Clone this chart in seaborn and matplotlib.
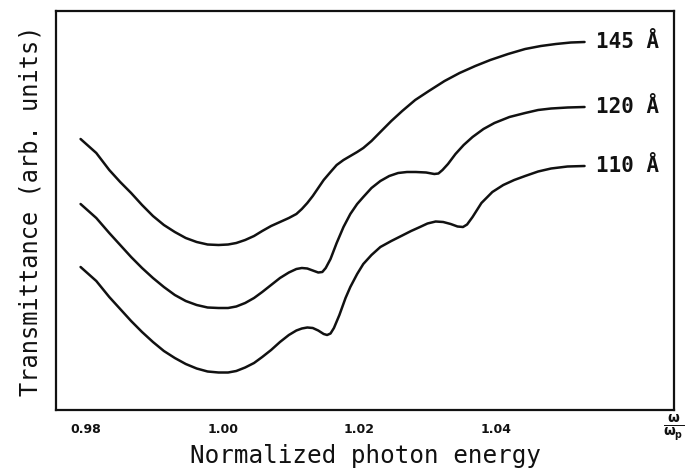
import numpy as np
import pandas as pd
import matplotlib
matplotlib.use("Agg")
import matplotlib.pyplot as plt
from matplotlib.ticker import FixedLocator, FixedFormatter
import seaborn as sns

# Transmittance spectra (arbitrary units) versus normalized photon energy w/wp
energy_145 = [0.9792, 0.9815, 0.9834, 0.9850, 0.9866, 0.9882, 0.9898, 0.9914, 0.9930, 0.9946,
              0.9962, 0.9978, 0.9994, 1.0008, 1.0020, 1.0033, 1.0046, 1.0058, 1.0071, 1.0084,
              1.0097, 1.0108, 1.0116, 1.0124, 1.0132, 1.0140, 1.0148, 1.0158, 1.0167, 1.0177,
              1.0187, 1.0197, 1.0206, 1.0218, 1.0231, 1.0247, 1.0263, 1.0282, 1.0302, 1.0325,
              1.0347, 1.0370, 1.0392, 1.0418, 1.0443, 1.0466, 1.0488, 1.0510, 1.0530]
trans_145 = [2.71, 2.57, 2.40, 2.28, 2.17, 2.05, 1.94, 1.85, 1.78, 1.72,
             1.68, 1.655, 1.65, 1.655, 1.67, 1.70, 1.74, 1.79, 1.84, 1.88,
             1.92, 1.96, 2.01, 2.07, 2.14, 2.22, 2.30, 2.38, 2.45, 2.50,
             2.54, 2.58, 2.62, 2.69, 2.78, 2.89, 2.99, 3.10, 3.19, 3.29,
             3.37, 3.44, 3.50, 3.56, 3.61, 3.64, 3.66, 3.675, 3.68]

energy_120 = [0.9792, 0.9815, 0.9834, 0.9850, 0.9866, 0.9882, 0.9898, 0.9914, 0.9930, 0.9946,
              0.9962, 0.9978, 0.9994, 1.0008, 1.0020, 1.0033, 1.0046, 1.0058, 1.0071, 1.0084,
              1.0097, 1.0108, 1.0116, 1.0124, 1.0132, 1.0140, 1.0146, 1.0151, 1.0158, 1.0167,
              1.0177, 1.0187, 1.0197, 1.0206, 1.0218, 1.0231, 1.0244, 1.0257, 1.0270, 1.0283,
              1.0298, 1.0310, 1.0316, 1.0322, 1.0330, 1.0341, 1.0353, 1.0366, 1.0382, 1.0398,
              1.0420, 1.0443, 1.0462, 1.0481, 1.0505, 1.0530]
trans_120 = [2.06, 1.92, 1.77, 1.65, 1.53, 1.42, 1.32, 1.23, 1.15, 1.09,
             1.05, 1.025, 1.02, 1.02, 1.035, 1.07, 1.12, 1.18, 1.25, 1.32,
             1.375, 1.41, 1.42, 1.415, 1.395, 1.375, 1.38, 1.42, 1.51, 1.67,
             1.83, 1.96, 2.06, 2.13, 2.22, 2.29, 2.34, 2.37, 2.38, 2.38,
             2.375, 2.36, 2.365, 2.40, 2.46, 2.56, 2.65, 2.73, 2.81, 2.87,
             2.93, 2.97, 3.00, 3.015, 3.025, 3.03]

energy_110 = [0.9792, 0.9815, 0.9834, 0.9850, 0.9866, 0.9882, 0.9898, 0.9914, 0.9930, 0.9946,
              0.9962, 0.9978, 0.9994, 1.0008, 1.0020, 1.0033, 1.0046, 1.0058, 1.0071, 1.0084,
              1.0097, 1.0108, 1.0116, 1.0124, 1.0132, 1.0140, 1.0148, 1.0153, 1.0158, 1.0163,
              1.0171, 1.0180, 1.0187, 1.0197, 1.0206, 1.0218, 1.0231, 1.0247, 1.0263, 1.0276,
              1.0289, 1.0300, 1.0312, 1.0323, 1.0334, 1.0344, 1.0352, 1.0358, 1.0366, 1.0379,
              1.0395, 1.0411, 1.0427, 1.0443, 1.0462, 1.0481, 1.0505, 1.0530]
trans_110 = [1.43, 1.29, 1.13, 1.01, 0.89, 0.78, 0.68, 0.59, 0.52, 0.46,
             0.415, 0.385, 0.375, 0.375, 0.39, 0.425, 0.47, 0.53, 0.60, 0.68,
             0.75, 0.795, 0.815, 0.825, 0.82, 0.795, 0.76, 0.75, 0.765, 0.82,
             0.95, 1.12, 1.23, 1.36, 1.46, 1.55, 1.63, 1.69, 1.745, 1.79,
             1.83, 1.865, 1.885, 1.88, 1.86, 1.835, 1.83, 1.855, 1.93, 2.07,
             2.18, 2.25, 2.30, 2.34, 2.385, 2.415, 2.435, 2.44]

thickness_labels = ["145 Å", "120 Å", "110 Å"]

tick_positions = [0.98, 0.99, 1.00, 1.01, 1.02, 1.03, 1.04, 1.05, 1.06]
tick_labels = ["0.98", "", "1.00", "", "1.02", "", "1.04", "", ""]

frames = []
for lab, e, t in zip(thickness_labels,
                     [energy_145, energy_120, energy_110],
                     [trans_145, trans_120, trans_110]):
    frames.append(pd.DataFrame({"energy": e, "transmittance": t, "thickness": lab}))
df = pd.concat(frames, ignore_index=True)

sns.set_style("white")
mono = "DejaVu Sans Mono"

fig = plt.figure(figsize=(6.86, 4.69), dpi=100)
ax = fig.add_axes([56 / 686, 1 - 410 / 469, (674 - 56) / 686, (410 - 11) / 469])

sns.lineplot(data=df, x="energy", y="transmittance", hue="thickness",
             palette={k: "#111111" for k in thickness_labels},
             estimator=None, sort=False, legend=False, linewidth=1.8, ax=ax)

ax.set_xlim(0.9756, 1.0661)
ax.set_ylim(0.0, 3.99)

# curve labels at the right-hand end of each spectrum
for lab, t in zip(thickness_labels, [trans_145, trans_120, trans_110]):
    ax.text(1.0547, t[-1], lab, family=mono, fontsize=15, fontweight="bold",
            va="center", ha="left", color="#111111")

ax.xaxis.set_major_locator(FixedLocator(tick_positions))
ax.xaxis.set_major_formatter(FixedFormatter(tick_labels))
ax.tick_params(axis="x", direction="in", length=4, width=1.0, pad=9,
               labelsize=9, colors="#111111")
ax.tick_params(axis="y", left=False, labelleft=False)
for lbl in ax.get_xticklabels():
    lbl.set_fontweight("bold")

for s in ax.spines.values():
    s.set_linewidth(1.6)
    s.set_color("#111111")

ax.set_xlabel("Normalized photon energy", family=mono, fontsize=17.5, labelpad=6,
              color="#111111")
ax.set_ylabel("Transmittance (arb. units)", family=mono, fontsize=17, labelpad=10,
              color="#111111")

fig.text(663 / 686, 1 - 428 / 469, r"$\mathbf{\frac{\omega}{\omega_p}}$", fontsize=14,
         ha="left", va="center", color="#111111")

fig.savefig("out.png", dpi=100)
